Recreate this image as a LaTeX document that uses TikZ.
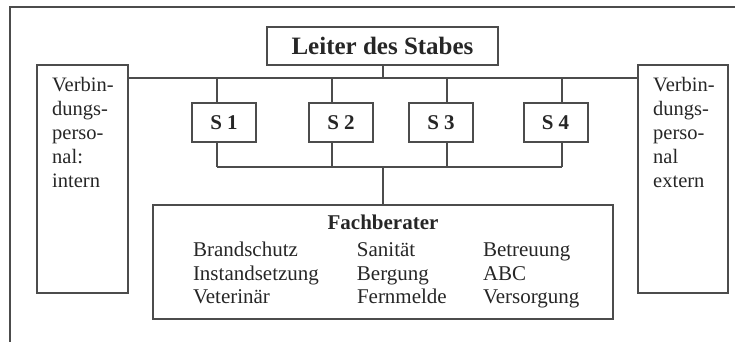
\documentclass[tikz,border=0pt]{standalone}
\usepackage{fontspec}
\setmainfont{Liberation Serif}
\usetikzlibrary{positioning}
\usetikzlibrary{calc}

\begin{document}
\begin{tikzpicture}[x=1pt, y=-1pt,
    kasten/.style={draw=black!70, line width=2pt, inner sep=0pt, text=black!85},
    linie/.style={draw=black!70, line width=2pt},
    seite/.style={anchor=north west, align=left, inner xsep=16pt, inner ysep=13pt,
        text=black!85, font=\fontsize{20.5}{24}\selectfont}]

    \useasboundingbox (0,0) rectangle (735,342);

    % Draw frame
    \draw[linie] (10,342) |- (735,7);

    % Draw boxes
    \node[kasten, minimum width=231, minimum height=38, font=\fontsize{25}{30}\selectfont\bfseries] (leiter) at (382.5,46) {Leiter des Stabes};

    \node[kasten, minimum width=91, minimum height=228] (links) at (82.5,179) {};
    \node[seite] (linkstext) at (links.north west) {Verbin-\\dungs-\\perso-\\nal:\\intern};

    \node[kasten, minimum width=90, minimum height=228] (rechts) at (683,179) {};
    \node[seite] (rechtstext) at (rechts.north west) {Verbin-\\dungs-\\perso-\\nal\\extern};

    \foreach \n/\x in {1/224, 2/341, 3/441, 4/555.5}
        \node[kasten, minimum width=64, minimum height=39, font=\fontsize{21}{25}\selectfont\bfseries] (s\n) at (\x,122.5) {S \n};

    \node[kasten, minimum width=460, minimum height=114, font=\fontsize{21}{23.5}\selectfont] (fach) at (383,262) {%
        \begin{tabular}{@{}p{164pt}@{}p{126pt}@{}p{90pt}@{}}
        \multicolumn{3}{@{}c@{}}{\bfseries Fachberater}\\[3.5pt]
        Brandschutz & Sanität & Betreuung\\
        Instandsetzung & Bergung & ABC\\
        Veterinär & Fernmelde & Versorgung
        \end{tabular}};

    % Draw connectors
    \coordinate (oben) at (383,78);
    \coordinate (unten) at (383,167);

    \draw[linie] (links.east |- oben) -- (rechts.west |- oben);
    \draw[linie] (leiter.south) -- (leiter.south |- oben);

    \foreach \n/\d in {1/-7, 2/-9, 3/6, 4/6.5} {
        \draw[linie] ([xshift=\d]s\n.north) -- ([xshift=\d]s\n.north |- oben);
        \draw[linie] ([xshift=\d]s\n.south) -- ([xshift=\d]s\n.south |- unten);
    }
    \draw[linie] ([xshift=-7]s1.south |- unten) -- ([xshift=6.5]s4.south |- unten);
    \draw[linie] (fach.north) -- (fach.north |- unten);

\end{tikzpicture}
\end{document}
